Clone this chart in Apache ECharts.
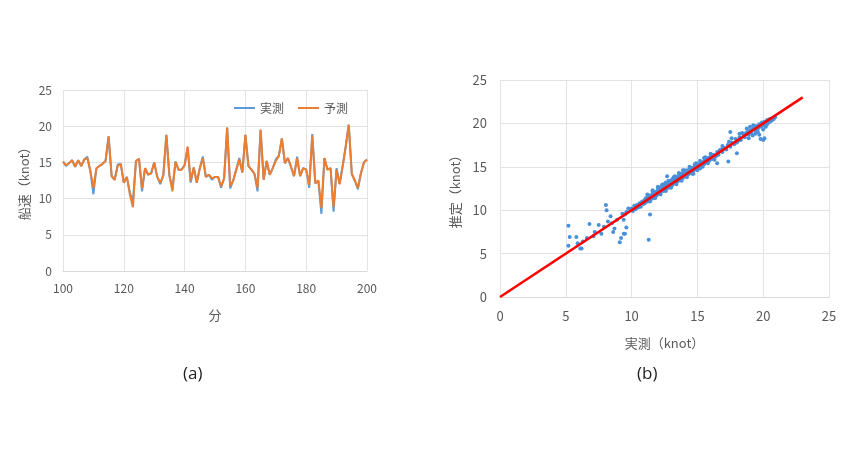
<!DOCTYPE html>
<html>
<head>
<meta charset="utf-8">
<script src="https://cdn.jsdelivr.net/npm/echarts@6/dist/echarts.min.js"></script>
<style>html,body{margin:0;padding:0;background:#fff}#c{width:850px;height:470px}</style>
</head>
<body>
<div id="c"></div>
<script>
// ---- Chart (a): ship speed time series ----
var minutes = [];
for (var m = 100; m <= 200; m++) minutes.push(m);
var predicted = [15.1,14.6,14.9,15.3,14.4,15.3,14.5,15.4,15.6,13.8,
  11.5,14.2,14.5,14.8,15.2,18.6,13.1,12.6,14.5,14.8,
  12.2,13.0,10.6,8.8,15.2,15.5,11.4,14.2,13.3,13.5,
  15.0,13.0,12.2,13.2,18.8,13.2,11.0,15.1,14.0,14.0,
  14.6,17.2,12.4,14.3,12.2,14.2,15.6,13.0,13.3,12.8,
  13.0,13.0,11.7,12.8,19.8,11.7,12.5,14.0,15.4,13.6,
  18.8,14.5,14.0,13.4,11.5,19.5,12.6,15.2,13.3,14.2,
  15.2,15.9,18.3,14.9,15.6,14.4,13.1,15.6,13.1,14.2,
  14.0,11.9,18.7,12.1,12.5,8.7,15.6,14.0,14.2,8.8,
  14.0,12.0,14.5,17.2,20.2,13.4,12.5,11.5,13.5,15.0,
  15.4];
var actual = [15.1,14.5,14.9,15.3,14.4,15.3,14.5,15.4,15.8,13.8,
  10.6,14.2,14.5,14.8,15.2,18.6,13.1,12.6,14.7,14.8,
  12.2,13.0,10.8,9.6,15.2,15.5,11.0,14.2,13.3,13.5,
  15.0,13.0,12.0,13.2,18.8,13.2,11.4,15.1,14.0,14.0,
  14.6,17.0,12.2,14.3,12.2,14.2,15.8,13.0,13.3,12.6,
  13.0,13.0,11.5,12.8,19.8,11.4,12.5,14.0,15.6,13.6,
  18.8,14.5,14.0,13.4,11.0,19.5,12.6,15.2,13.3,14.2,
  15.4,15.9,18.3,14.9,15.6,14.4,13.1,15.8,13.1,14.2,
  14.0,11.5,18.9,12.1,12.5,7.9,15.6,14.0,14.2,8.2,
  14.2,12.0,14.5,17.2,20.2,13.4,12.5,11.3,13.5,15.0,
  15.4];
var seriesNames = ['実測', '予測'];

// ---- Chart (b): measured vs estimated scatter ----
var scatterActual = [5.2,5.3,5.2,5.8,5.9,6.1,6.2,6.3,6.6,6.8,7.1,7.2,7.5,7.7,7.9,8.05,8.1,8.2,8.4,8.5,8.6,8.7,8.9,9.1,9.2,9.4,9.3,9.5,9.6,9.75,9.5,9.6,9.4,11.4,11.3,
  10.0,10.1,10.2,10.3,10.4,10.5,10.6,10.7,10.8,10.9,11.0,11.0,11.1,11.2,11.3,11.3,11.4,11.5,11.5,11.6,11.7,11.7,11.8,11.9,11.9,
  12.0,12.0,12.1,12.2,12.2,12.3,12.4,12.4,12.5,12.5,12.6,12.7,12.7,12.8,12.8,12.9,12.9,13.0,13.0,13.1,13.1,13.2,13.2,13.3,13.3,
  13.4,13.4,13.5,13.5,13.6,13.6,13.7,13.7,13.8,13.8,13.9,13.9,14.0,14.0,14.1,14.1,14.2,14.2,14.3,14.3,14.4,14.4,14.5,14.5,14.6,
  14.6,14.7,14.8,14.8,14.9,15.0,15.0,15.1,15.2,15.3,15.4,15.5,15.6,15.7,15.8,15.9,16.0,16.1,16.2,16.4,16.5,16.6,16.8,16.9,17.0,
  17.2,17.3,17.5,17.6,17.8,17.9,18.0,18.2,18.3,18.5,18.6,18.8,18.9,19.0,19.1,19.3,19.4,19.5,19.6,19.7,19.8,19.9,20.0,20.1,20.2,
  20.3,20.4,20.5,20.6,20.7,20.8,20.9,12.3,13.0,13.6,14.7,15.5,16.3,17.4,18.4,19.2,20.3,12.0,11.6,13.9,15.2,19.8,20.0,19.7,
  17.35,17.5,18.0,20.1,18.75,19.25,12.7,16.5,12.6,13.3,14.9,13.1,12.1,
  11.2,11.4,11.6,11.8,12.0,12.2,12.4,12.6,12.8,13.2,13.4,13.6,13.8,14.0,14.2,14.4,14.6,14.8,15.0,15.2,15.4,15.6,15.8,16.0,
  11.25,11.45,11.65,11.85,12.05,12.15,12.35,12.45,12.55,12.75,12.85,12.95,13.05,13.15,13.25,13.35,13.45,13.55,13.65,13.75,
  13.85,13.95,14.05,14.15,14.25,14.35,14.45,14.55,14.65,14.75,14.85,14.95,15.1,15.3,15.5,15.7,16.3,16.7,17.1,17.7,18.1,18.7,
  19.2,19.5,19.9,20.3,20.5,20.7,20.2,19.6,18.9,19.4,20.0,17.6,16.9,18.2,19.0];
var scatterEstimated = [8.2,6.9,5.9,6.9,6.2,5.6,5.6,6.4,6.8,8.4,7.0,7.5,8.3,7.3,8.1,10.6,10.0,8.7,9.3,8.5,7.5,7.9,8.9,6.3,6.8,7.3,9.6,9.5,9.8,10.2,7.3,8.0,8.9,9.5,6.6,
  10.2,9.9,10.5,10.1,10.6,10.3,10.8,10.4,11.0,10.7,11.2,10.8,11.4,11.0,11.5,11.1,11.7,11.3,11.6,11.9,11.4,11.8,12.1,11.7,12.0,
  12.3,11.9,12.2,12.5,12.0,12.4,12.7,12.2,12.6,12.9,12.4,12.8,13.1,12.6,12.9,13.2,12.7,13.0,13.4,12.9,13.3,13.5,13.1,13.2,13.6,
  13.4,13.8,13.3,13.7,13.9,13.5,13.6,14.0,13.8,14.2,13.7,14.1,14.0,14.3,13.9,14.4,14.2,14.6,14.1,14.5,14.3,14.7,14.4,14.8,14.5,
  14.9,14.6,15.0,14.7,15.1,14.9,15.3,15.0,15.4,15.1,15.5,15.3,15.8,15.5,16.0,15.7,16.2,15.9,16.4,16.2,16.7,16.4,17.0,16.7,17.2,
  17.0,17.5,17.3,17.8,17.6,18.2,17.8,18.4,18.1,18.7,18.4,19.0,18.7,19.2,18.9,19.5,19.2,19.7,19.4,19.9,19.6,20.1,19.8,20.2,20.0,
  20.4,20.1,20.5,20.3,20.6,20.5,20.7,12.9,12.6,14.3,14.2,16.0,15.8,17.9,18.9,18.6,19.9,12.7,12.3,14.6,14.8,18.2,18.1,18.7,
  15.6,19.0,16.55,18.3,19.4,19.8,13.9,15.4,13.2,13.9,15.4,13.6,12.6,
  11.8,11.0,12.2,11.4,12.6,11.8,13.0,12.2,13.4,13.8,13.0,14.2,13.4,14.6,13.8,15.0,14.2,15.3,14.6,15.7,15.0,16.1,15.4,16.5,
  11.5,11.6,11.7,12.0,12.1,12.4,12.3,12.6,12.7,12.7,13.0,13.1,13.2,13.2,13.4,13.3,13.6,13.5,13.8,13.7,
  14.0,13.9,14.2,14.1,14.4,14.3,14.6,14.5,14.8,14.7,14.9,15.2,15.2,15.3,15.6,15.8,16.3,16.9,17.1,17.7,18.0,18.9,
  19.3,19.3,19.7,20.2,20.2,20.4,19.6,19.0,18.3,18.8,19.3,18.3,17.4,18.8,19.6];
var refLine = [[0, 0], [23, 23]];

var lineA = minutes.map(function (t, i) { return [t, actual[i]]; });
var lineP = minutes.map(function (t, i) { return [t, predicted[i]]; });
var pts = scatterActual.map(function (a, i) { return [a, scatterEstimated[i]]; });

var FONT = '"Noto Sans CJK JP", "Noto Sans", sans-serif';
var gray = '#595959';
var gridColor = '#e3e3e3';

function valAxis(o) {
  var base = {
    type: 'value',
    axisLine: { show: false },
    axisTick: { show: false },
    splitLine: { show: true, lineStyle: { color: gridColor, width: 1 } },
    axisLabel: { color: gray, fontSize: 12, fontFamily: FONT },
    nameTextStyle: { color: gray, fontSize: 13, fontFamily: FONT }
  };
  for (var k in o) base[k] = o[k];
  return base;
}

var chart = echarts.init(document.getElementById('c'), null, { renderer: 'canvas' });
chart.setOption({
  backgroundColor: '#fff',
  animation: false,
  textStyle: { fontFamily: FONT },
  legend: {
    data: seriesNames,
    left: 229, top: 97,
    icon: 'rect', itemWidth: 21, itemHeight: 2, itemGap: 14,
    textStyle: { color: gray, fontSize: 12, fontFamily: FONT }
  },
  grid: [
    { left: 63, top: 90, width: 304, height: 181 },
    { left: 500, top: 80, width: 329, height: 217 }
  ],
  xAxis: [
    valAxis({ gridIndex: 0, min: 100, max: 200, interval: 20, name: '分', nameLocation: 'middle', nameGap: 38,
      axisLine: { show: true, lineStyle: { color: '#d9d9d9' } }, axisLabel: { color: gray, fontSize: 12, fontFamily: FONT, margin: 11 } }),
    valAxis({ gridIndex: 1, min: 0, max: 25, interval: 5, name: '実測（knot）', nameLocation: 'middle', nameGap: 40,
      axisLine: { show: true, lineStyle: { color: '#d9d9d9' } }, axisLabel: { color: gray, fontSize: 13, fontFamily: FONT, margin: 13 } })
  ],
  yAxis: [
    valAxis({ gridIndex: 0, min: 0, max: 25, interval: 5, name: '船速（knot）', nameLocation: 'middle', nameGap: 32,
      axisLabel: { color: gray, fontSize: 12, fontFamily: FONT, margin: 11 } }),
    valAxis({ gridIndex: 1, min: 0, max: 25, interval: 5, name: '推定（knot）', nameLocation: 'middle', nameGap: 38,
      axisLabel: { color: gray, fontSize: 13, fontFamily: FONT, margin: 13 } })
  ],
  series: [
    { name: seriesNames[0], type: 'line', xAxisIndex: 0, yAxisIndex: 0, data: lineA, showSymbol: false,
      itemStyle: { color: '#5B9BD5' }, lineStyle: { color: '#5B9BD5', width: 2 } },
    { name: seriesNames[1], type: 'line', xAxisIndex: 0, yAxisIndex: 0, data: lineP, showSymbol: false,
      itemStyle: { color: '#ED7D31' }, lineStyle: { color: '#ED7D31', width: 2 } },
    { name: 'scatter', type: 'scatter', xAxisIndex: 1, yAxisIndex: 1, data: pts, symbolSize: 4,
      itemStyle: { color: '#4A90D9', opacity: 1 } },
    { name: 'ref', type: 'line', xAxisIndex: 1, yAxisIndex: 1, data: refLine, showSymbol: false,
      lineStyle: { color: '#FF0000', width: 2.5 }, z: 5 }
  ],
  graphic: [
    { type: 'text', left: 183, top: 366, style: { text: '(a)', font: '17px "Open Sans", "Liberation Sans", sans-serif', fill: '#222' } },
    { type: 'text', left: 637, top: 366, style: { text: '(b)', font: '17px "Open Sans", "Liberation Sans", sans-serif', fill: '#222' } }
  ]
});
</script>
</body>
</html>
